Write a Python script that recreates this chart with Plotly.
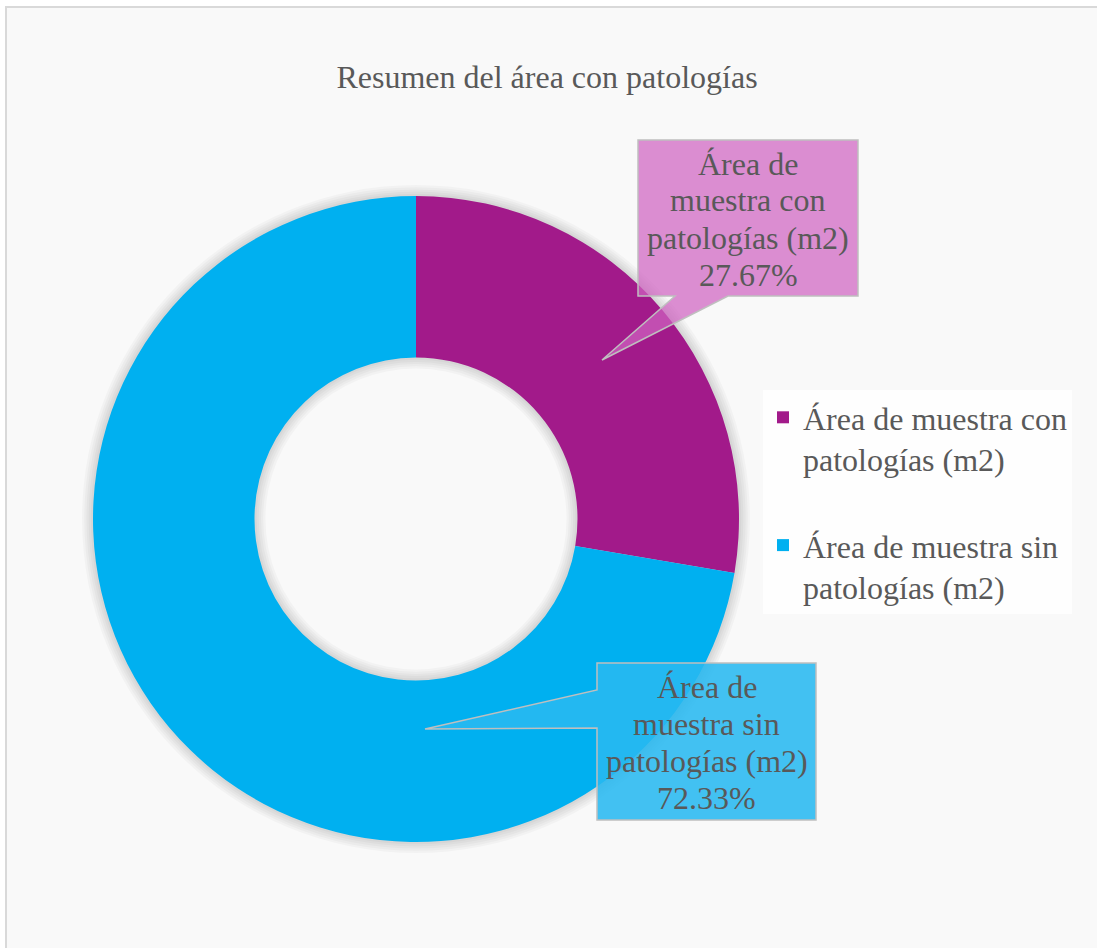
import plotly.graph_objects as go

# ---- data ----
categories = ["Área de muestra con patologías (m2)", "Área de muestra sin patologías (m2)"]
shares = [27.67, 72.33]
slice_colors = ["#A21A8A", "#00B0F0"]
callout_fills = ["rgba(206,98,192,0.72)", "rgba(40,184,240,0.88)"]
title_text = "Resumen del área con patologías"

# ---- layout constants (pixels) ----
W, H = 1097, 948
CX, CY, R, HOLE = 416, 519, 323, 0.5
FONT = "Liberation Serif, Times New Roman, serif"
TXT = "#595959"
FS = 32
LINE = 37


def px(x):
    return x / W


def py(y):
    return 1 - y / H


def dom(r):
    return dict(x=[px(CX - r), px(CX + r)], y=[py(CY + r), py(CY - r)])


fig = go.Figure()

# soft shadow rings behind the donut
for k in range(1, 6):
    r = R + 2.2 * k
    inner = R * HOLE - 2.2 * k
    fig.add_trace(go.Pie(
        values=[1], labels=["shadow"], marker=dict(colors=["rgba(0,0,0,0.028)"], line=dict(width=0)),
        domain=dom(r), hole=inner / r, textinfo="none", hoverinfo="skip",
        showlegend=False, sort=False,
    ))

legend_labels = [c.replace(" patologías", "<br>patologías") for c in categories]
legend_labels[0] = legend_labels[0] + "<br> "  # spacing between legend entries

fig.add_trace(go.Pie(
    labels=legend_labels,
    values=shares,
    marker=dict(colors=slice_colors, line=dict(width=0)),
    domain=dom(R),
    hole=HOLE,
    sort=False,
    direction="clockwise",
    rotation=0,
    textinfo="none",
    hovertemplate="%{label}<br>%{percent}<extra></extra>",
    showlegend=True,
))

# ---- callouts ----
callout_boxes = [
    dict(box=(638, 140, 858, 296), base=[(728, 296), (675, 296)], tip=(602, 360), side="bottom"),
    dict(box=(597, 663, 816, 820), base=[(597, 728), (597, 690)], tip=(425, 729), side="left"),
]

shapes = [
    dict(type="rect", xref="paper", yref="paper", x0=px(6), x1=1.02, y0=-0.02, y1=py(7),
         line=dict(color="#d9d9d9", width=2), fillcolor="#f9f9f9", layer="below"),
]

annotations = []
for i, cb in enumerate(callout_boxes):
    x0, y0, x1, y1 = cb["box"]
    (bx1, by1), (bx2, by2) = cb["base"]
    tx, ty = cb["tip"]
    if cb["side"] == "bottom":
        pts = [(x0, y0), (x1, y0), (x1, y1), (bx1, by1), (tx, ty), (bx2, by2), (x0, y1)]
    else:
        pts = [(x0, y0), (x1, y0), (x1, y1), (x0, y1), (bx1, by1), (tx, ty), (bx2, by2)]
    path = "M " + " L ".join(f"{px(a):.5f},{py(b):.5f}" for a, b in pts) + " Z"
    shapes.append(dict(type="path", xref="paper", yref="paper", path=path,
                       fillcolor=callout_fills[i], line=dict(color="#bfbfbf", width=1.5), layer="above"))
    label = categories[i].replace("de ", "de\n").replace(" patologías", "\npatologías")
    lines = label.split("\n") + [f"{shares[i]:.2f}%"]
    cy = (y0 + y1) / 2
    n = len(lines)
    for j, ln in enumerate(lines):
        annotations.append(dict(
            text=ln,
            x=px((x0 + x1) / 2), y=py(cy + (j - (n - 1) / 2) * LINE + 1), xref="paper", yref="paper",
            xanchor="center", yanchor="middle", showarrow=False, align="center",
            font=dict(family=FONT, size=FS, color=TXT),
        ))

fig.update_layout(
    width=W, height=H, autosize=False,
    margin=dict(l=0, r=0, t=0, b=0),
    paper_bgcolor="white",
    title=dict(text=title_text, x=px(547), y=py(77), xanchor="center", yanchor="middle",
               font=dict(family=FONT, size=FS, color=TXT)),
    legend=dict(x=px(763), y=py(390), xanchor="left", yanchor="top",
                bgcolor="rgba(255,255,255,0.85)", font=dict(family=FONT, size=FS, color=TXT),
                valign="top", traceorder="normal"),
    shapes=shapes,
    annotations=annotations,
    font=dict(family=FONT, color=TXT),
)

fig.write_html("out.html", config={"displayModeBar": False},
               post_script="document.body.style.margin='0px';")
